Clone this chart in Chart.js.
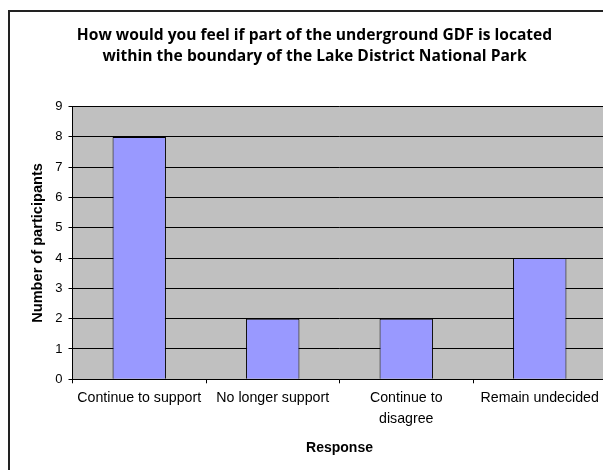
<!DOCTYPE html>
<html>
<head>
<meta charset="utf-8">
<script src="https://cdn.jsdelivr.net/npm/chart.js@4.4.0/dist/chart.umd.min.js"></script>
<style>
  html, body { margin: 0; padding: 0; background: #ffffff; overflow: hidden; width: 603px; height: 470px; }
  #frame { position: absolute; left: 8px; top: 10px; width: 700px; height: 600px; border: 2px solid #222; box-sizing: border-box; }
  #c { position: absolute; left: 0; top: 0; }
</style>
</head>
<body>
<div id="frame"></div>
<canvas id="c" width="630" height="470"></canvas>
<script>
const titleLines = ["How would you feel if part of the underground GDF is located", "within the boundary of the Lake District National Park"];
const categories = ["Continue to support", "No longer support", ["Continue to", "disagree"], "Remain undecided"];
const participants = [8, 2, 2, 4];
const yTicks = [0, 1, 2, 3, 4, 5, 6, 7, 8, 9];
const xAxisTitle = "Response";
const yAxisTitle = "Number of participants";

const plotBg = {
  id: 'plotBg',
  beforeDraw(chart) {
    const {ctx, chartArea: a} = chart;
    ctx.save();
    ctx.fillStyle = '#C0C0C0';
    ctx.fillRect(a.left, a.top, a.right - a.left, a.bottom - a.top);
    ctx.restore();
  }
};

new Chart(document.getElementById('c'), {
  type: 'bar',
  data: {
    labels: categories,
    datasets: [{
      data: participants,
      backgroundColor: '#9999FF',
      borderColor: '#000000',
      borderWidth: 1,
      barPercentage: 0.4,
      categoryPercentage: 1.0
    }]
  },
  options: {
    responsive: false,
    animation: false,
    devicePixelRatio: 1,
    layout: { padding: { left: 22.5, right: 23.5, top: 0, bottom: 0 } },
    plugins: {
      legend: { display: false },
      tooltip: { enabled: false },
      title: {
        display: true,
        text: titleLines,
        color: '#000000',
        font: { family: "'Open Sans', 'Noto Sans', sans-serif", size: 15.6, weight: 'bold', lineHeight: 21 / 15.6 },
        padding: { top: 25.5, bottom: 39.1 }
      }
    },
    scales: {
      x: {
        offset: true,
        grid: { display: true, offset: true, drawOnChartArea: false, drawTicks: true, tickLength: 4, color: '#000000', tickColor: '#000000' },
        border: { display: true, color: '#000000', width: 1 },
        ticks: { color: '#000000', padding: 4, maxRotation: 0, autoSkip: false,
                 font: { family: "'Liberation Sans', Arial, sans-serif", size: 14.2, lineHeight: 21 / 14.2 } },
        title: { display: true, text: xAxisTitle, color: '#000000', padding: { top: 0, bottom: 13.6 },
                 font: { family: "'Liberation Sans', Arial, sans-serif", size: 14, weight: 'bold' } },
        afterFit(scale) { scale.height = 90.7; }
      },
      y: {
        min: 0,
        max: 9,
        afterBuildTicks(scale) { scale.ticks = yTicks.map(v => ({ value: v })); },
        grid: { display: true, drawOnChartArea: true, drawTicks: true, tickLength: 4, color: '#000000', tickColor: '#000000' },
        border: { display: true, color: '#000000', width: 1 },
        ticks: { color: '#000000', padding: 6,
                 font: { family: "'Liberation Sans', Arial, sans-serif", size: 13 } },
        title: { display: true, text: yAxisTitle, color: '#000000', padding: { top: 7, bottom: 0 },
                 font: { family: "'Liberation Sans', Arial, sans-serif", size: 14.6, weight: 'bold' } },
        afterFit(scale) { scale.width = 50; }
      }
    }
  },
  plugins: [plotBg]
});
</script>
</body>
</html>
